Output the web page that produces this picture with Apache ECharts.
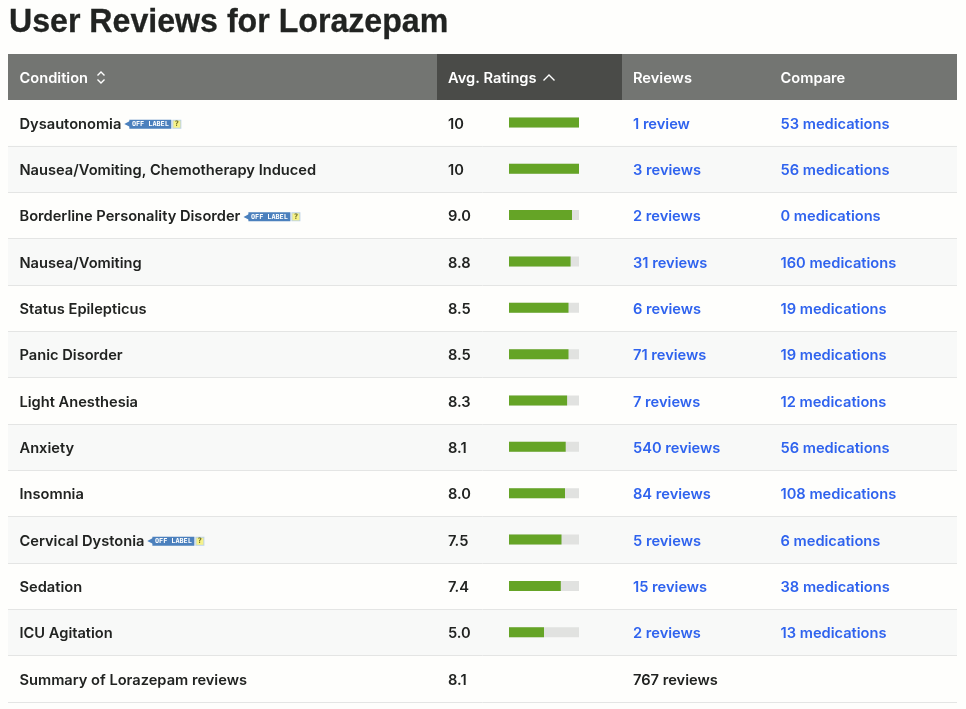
<!DOCTYPE html>
<html>
<head>
<meta charset="utf-8">
<style>
html, body { margin: 0; padding: 0; background: #fefefc; }
#chart { width: 966px; height: 709px; }
</style>
<script src="https://cdn.jsdelivr.net/npm/echarts@6/dist/echarts.min.js"></script>
</head>
<body>
<div id="chart"></div>
<script>
// data
var conditions = ["Dysautonomia", "Nausea/Vomiting, Chemotherapy Induced", "Borderline Personality Disorder",
    "Nausea/Vomiting", "Status Epilepticus", "Panic Disorder", "Light Anesthesia", "Anxiety", "Insomnia",
    "Cervical Dystonia", "Sedation", "ICU Agitation", "Summary of Lorazepam reviews"];
var offLabel = ["Dysautonomia", "Borderline Personality Disorder", "Cervical Dystonia"];
var ratings = [10, 10, 9.0, 8.8, 8.5, 8.5, 8.3, 8.1, 8.0, 7.5, 7.4, 5.0, 8.1];
var trackValues = [10, 10, 10, 10, 10, 10, 10, 10, 10, 10, 10, 10];
var reviews = ["1 review", "3 reviews", "2 reviews", "31 reviews", "6 reviews", "71 reviews", "7 reviews",
    "540 reviews", "84 reviews", "5 reviews", "15 reviews", "2 reviews", "767 reviews"];
var compare = ["53 medications", "56 medications", "0 medications", "160 medications", "19 medications",
    "19 medications", "12 medications", "56 medications", "108 medications", "6 medications",
    "38 medications", "13 medications", ""];

var FONT = "Inter";
var FONT_SIZE = 14.65;
var INK = "#212321";
var LINK = "#2f63ee";
var lastRow = conditions.length - 1;

var ratingLabels = ratings.map(function (v) {
    return v === 10 ? "10" : v.toFixed(1);
});
var barValues = ratings.slice(0, lastRow);

var textRich = {
    ink: { fontFamily: FONT, fontWeight: 600, fontSize: FONT_SIZE, color: INK },
    link: { fontFamily: FONT, fontWeight: 600, fontSize: FONT_SIZE, color: LINK },
    gap: { width: 3 },
    tip: { fontSize: 8, color: "#4b80bd", width: 5, fontFamily: "DejaVu Sans" },
    badge: {
        fontFamily: "DejaVu Sans Mono", fontWeight: "bold", fontSize: 6.8, color: "#ffffff",
        backgroundColor: "#4b80bd", width: 40, height: 9, align: "center", padding: [0, 1]
    },
    gap2: { width: 2 },
    help: {
        fontFamily: "DejaVu Sans Mono", fontWeight: "bold", fontSize: 7.5, color: "#6a6a20",
        backgroundColor: "#f6f28a", borderColor: "#bcd3e6", borderWidth: 1,
        width: 7, height: 7, align: "center"
    }
};

// one text column of the table, drawn as a category axis inside the full width grid
function column(data, margin, formatter) {
    return {
        type: "category",
        gridIndex: 0,
        inverse: true,
        data: data,
        position: "left",
        axisLine: { show: false },
        axisTick: { show: false },
        axisLabel: {
            show: true,
            inside: true,
            interval: 0,
            margin: margin,
            padding: [3, 0, 0, 0],
            formatter: formatter,
            rich: textRich
        }
    };
}

var conditionAxis = column(conditions, 11.5, function (value) {
    if (offLabel.indexOf(value) >= 0) {
        return "{ink|" + value + "}{gap|}{tip|◀}{badge|OFF LABEL}{gap2|}{help|?}";
    }
    return "{ink|" + value + "}";
});
conditionAxis.splitArea = { show: true, areaStyle: { color: ["#fefefc", "#f8f9f8"] } };
conditionAxis.splitLine = { show: true, lineStyle: { color: "#e4e5e4", width: 1 } };

function chevron(points) {
    return {
        type: "polyline",
        z: 12,
        shape: { points: points },
        style: { fill: null, stroke: "#ffffff", lineWidth: 1.4 }
    };
}

function headerText(text, x) {
    return {
        type: "text",
        z: 12,
        x: x,
        y: 78.5,
        style: {
            text: text,
            fill: "#ffffff",
            font: "600 " + FONT_SIZE + "px " + FONT,
            textVerticalAlign: "middle"
        }
    };
}

var myChart = echarts.init(document.getElementById("chart"));

var option = {
    animation: false,
    backgroundColor: "#fefefc",
    grid: [
        // full table width, carries the row shading, rules and text columns
        { left: 8, right: 9, top: 99.5, height: 602.5 },
        // rating bars only
        { left: 509, width: 70, top: 99.25, height: 602.5 }
    ],
    xAxis: [
        { type: "value", gridIndex: 0, show: false },
        { type: "value", gridIndex: 1, show: false, min: 0, max: 10 }
    ],
    yAxis: [
        conditionAxis,
        column(ratingLabels, 440, function (value) {
            return "{ink|" + value + "}";
        }),
        column(reviews, 625, function (value, index) {
            return (index === lastRow ? "{ink|" : "{link|") + value + "}";
        }),
        column(compare, 772.5, function (value) {
            return value ? "{link|" + value + "}" : "";
        }),
        {
            type: "category",
            gridIndex: 1,
            inverse: true,
            show: false,
            data: conditions
        }
    ],
    series: [
        {
            name: "track",
            type: "bar",
            xAxisIndex: 1,
            yAxisIndex: 4,
            barWidth: 10,
            barGap: "-100%",
            silent: true,
            itemStyle: { color: "#e1e2e0" },
            data: trackValues
        },
        {
            name: "Avg. Ratings",
            type: "bar",
            xAxisIndex: 1,
            yAxisIndex: 4,
            barWidth: 10,
            barGap: "-100%",
            silent: true,
            itemStyle: { color: "#65a426" },
            data: barValues
        }
    ],
    graphic: [
        // title is squeezed a bit, the original face has tighter tracking
        {
            type: "text",
            z: 12,
            x: 9,
            y: 23,
            scaleX: 0.945,
            style: {
                text: "User Reviews for Lorazepam",
                fill: INK,
                stroke: INK,
                lineWidth: 0.3,
                font: "700 34px Liberation Sans",
                textVerticalAlign: "middle"
            }
        },
        { type: "rect", z: 11, shape: { x: 8, y: 54, width: 949, height: 46 }, style: { fill: "#737572" } },
        { type: "rect", z: 11, shape: { x: 437, y: 54, width: 185, height: 46 }, style: { fill: "#4a4b48" } },
        headerText("Condition", 19.5),
        headerText("Avg. Ratings", 448),
        headerText("Reviews", 633),
        headerText("Compare", 780.5),
        chevron([[97.5, 75.5], [101, 72], [104.5, 75.5]]),
        chevron([[97.5, 79.5], [101, 83], [104.5, 79.5]]),
        chevron([[543.5, 80.5], [549, 75], [554.5, 80.5]])
    ]
};

myChart.setOption(option);
window.addEventListener("resize", function () {
    myChart.resize();
});
</script>
</body>
</html>
